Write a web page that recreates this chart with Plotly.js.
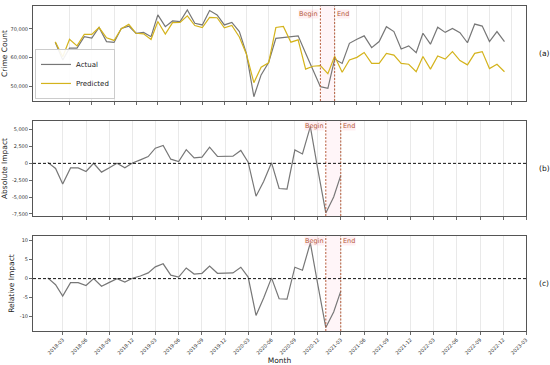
<!DOCTYPE html>
<html>
<head>
<meta charset="utf-8">
<script src="https://cdn.plot.ly/plotly-3.0.1.min.js"></script>
<style>html,body{margin:0;padding:0;background:#fff;}#chart{width:550px;height:365px;}</style>
</head>
<body>
<div id="chart"></div>
<script>
// ---- data ----
const months = [
 '2018-01-01','2018-02-01','2018-03-01','2018-04-01','2018-05-01','2018-06-01','2018-07-01','2018-08-01','2018-09-01','2018-10-01','2018-11-01','2018-12-01',
 '2019-01-01','2019-02-01','2019-03-01','2019-04-01','2019-05-01','2019-06-01','2019-07-01','2019-08-01','2019-09-01','2019-10-01','2019-11-01','2019-12-01',
 '2020-01-01','2020-02-01','2020-03-01','2020-04-01','2020-05-01','2020-06-01','2020-07-01','2020-08-01','2020-09-01','2020-10-01','2020-11-01','2020-12-01',
 '2021-01-01','2021-02-01','2021-03-01','2021-04-01','2021-05-01','2021-06-01','2021-07-01','2021-08-01','2021-09-01','2021-10-01','2021-11-01','2021-12-01',
 '2022-01-01','2022-02-01','2022-03-01','2022-04-01','2022-05-01','2022-06-01','2022-07-01','2022-08-01','2022-09-01','2022-10-01','2022-11-01','2022-12-01',
 '2023-01-01','2023-02-01'
];
const actual = [65400,59200,63300,63300,67300,66800,70500,65600,65300,70200,71000,68500,
 68800,67300,74900,70800,72800,72600,76600,72000,71400,76400,74900,71400,
 72300,69100,61500,46400,54000,58300,66750,67100,67300,67600,61500,56000,
 49900,49300,59500,58000,65000,66400,67600,63500,65600,70800,69100,63000,
 64100,61700,68500,64700,70600,68800,70200,68700,65200,71700,71000,65600,
 69100,65600];
const predicted = [65500,60300,66400,64100,68100,68100,70500,66900,66000,70100,71600,68500,
 68300,66300,72600,68200,72200,72300,74600,71200,70500,74000,73900,70400,
 71200,67200,61300,51300,56700,58200,70500,70900,65400,66200,56000,57000,
 57200,54400,60500,54900,59200,60100,61800,58000,58000,61500,60900,58000,
 57700,55100,60400,56000,60600,59500,62100,59000,57500,61500,62100,56200,
 57700,55100];
const impactMonths = months.slice(0, 39);
const absImpact = [150,-750,-3050,-680,-680,-1200,20,-1300,-650,30,-660,50,
 520,1000,2250,2650,620,280,2030,800,920,2400,1020,1030,
 1070,1920,180,-4860,-2700,100,-3720,-3820,1980,1390,5450,-1000,
 -7340,-4970,-1780];
const relImpact = [0.2,-1.6,-4.6,-1.05,-1.05,-1.8,0,-2.0,-1.0,0,-0.9,0.1,
 0.7,1.5,3.1,3.9,0.9,0.4,2.8,1.2,1.4,3.3,1.4,1.5,
 1.5,3.0,0.4,-9.7,-5.1,0.2,-5.3,-5.4,3.0,2.2,9.4,-1.8,
 -12.9,-8.8,-3.3];
const tickDates = ['2018-03-01','2018-06-01','2018-09-01','2018-12-01','2019-03-01','2019-06-01','2019-09-01','2019-12-01',
 '2020-03-01','2020-06-01','2020-09-01','2020-12-01','2021-03-01','2021-06-01','2021-09-01','2021-12-01',
 '2022-03-01','2022-06-01','2022-09-01','2022-12-01','2023-03-01'];
const tickLabels = ['2018-03','2018-06','2018-09','2018-12','2019-03','2019-06','2019-09','2019-12',
 '2020-03','2020-06','2020-09','2020-12','2021-03','2021-06','2021-09','2021-12',
 '2022-03','2022-06','2022-09','2022-12','2023-03'];
const beginDate = '2021-01-01';
const endDate = '2021-03-01';
const panelLabels = ['(a)','(b)','(c)'];

// ---- styles ----
const FONT = 'DejaVu Sans, sans-serif';
const GRAY = '#777777';
const GOLD = '#d4b31c';
const EVT = '#b65a3a';

const traces = [
  {x: months, y: actual, type:'scatter', mode:'lines', name:'Actual', line:{color:GRAY, width:1.2}, xaxis:'x', yaxis:'y'},
  {x: months, y: predicted, type:'scatter', mode:'lines', name:'Predicted', line:{color:GOLD, width:1.2}, xaxis:'x', yaxis:'y'},
  {x: impactMonths, y: absImpact, type:'scatter', mode:'lines', showlegend:false, line:{color:GRAY, width:1.2}, xaxis:'x2', yaxis:'y2'},
  {x: impactMonths, y: relImpact, type:'scatter', mode:'lines', showlegend:false, line:{color:GRAY, width:1.2}, xaxis:'x3', yaxis:'y3'}
];

function xax(range, anchor, labels) {
  return {
    type:'date', range: range, anchor: anchor,
    tickmode:'array', tickvals: tickDates, ticktext: tickLabels,
    showticklabels: labels, tickangle: -45,
    tickfont:{size:5, family:FONT, color:'#333'},
    ticks:'outside', ticklen:3, tickwidth:0.8, tickcolor:'#444',
    showgrid:true, gridcolor:'#e3e3e3', gridwidth:0.8,
    showline:true, mirror:true, linecolor:'#555', linewidth:1,
    zeroline:false, automargin:false
  };
}
function yax(range, domain, anchor, vals, texts, title) {
  return {
    range: range, domain: domain, anchor: anchor,
    tickmode:'array', tickvals: vals, ticktext: texts,
    tickfont:{size:5, family:FONT, color:'#333'},
    ticks:'outside', ticklen:3, tickwidth:0.8, tickcolor:'#444',
    showgrid:false, zeroline:false,
    showline:true, mirror:true, linecolor:'#555', linewidth:1,
    title:{text:title, font:{size:7.5, family:FONT, color:'#222'}, standoff:4},
    automargin:false
  };
}

const topRange = ['2017-10-01','2023-05-01'];
const botRange = ['2017-11-04','2023-03-01'];

const layout = {
  width:550, height:365,
  margin:{l:33, r:24, t:6, b:34},
  paper_bgcolor:'#fff', plot_bgcolor:'#fff',
  font:{family:FONT},
  showlegend:true,
  legend:{x:0.004, y:0.714, xanchor:'left', yanchor:'bottom', bgcolor:'rgba(255,255,255,0.9)',
    bordercolor:'#cccccc', borderwidth:1, font:{size:7, family:FONT, color:'#222'},
    itemwidth:30, tracegroupgap:0},
  xaxis: xax(topRange, 'y', false),
  xaxis2: xax(botRange, 'y2', false),
  xaxis3: Object.assign(xax(botRange, 'y3', true), {title:{text:'Month', font:{size:7.5, family:FONT, color:'#222'}, standoff:2}}),
  yaxis: yax([44900, 78000], [0.7077, 1], 'x', [50000,60000,70000], ['50,000','60,000','70,000'], 'Crime Count'),
  yaxis2: yax([-7800, 6270], [0.3538, 0.646], 'x2', [-7500,-5000,-2500,0,2500,5000], ['-7,500','-5,000','-2,500','0','2,500','5,000'], 'Absolute Impact'),
  yaxis3: yax([-13.8, 11.2], [0, 0.292], 'x3', [-10,-5,0,5,10], ['-10','-5','0','5','10'], 'Relative Impact'),
  shapes: [],
  annotations: []
};

const panels = [['x','y',[0.7077,1]],['x2','y2',[0.3538,0.646]],['x3','y3',[0,0.292]]];
panels.forEach(function(p, k){
  const xr = p[0], yr = p[1];
  layout.shapes.push({type:'rect', xref:xr, yref:yr+' domain', x0:beginDate, x1:endDate, y0:0, y1:1,
    fillcolor:'rgba(255,190,205,0.15)', line:{width:0}, layer:'below'});
  [beginDate, endDate].forEach(function(d){
    layout.shapes.push({type:'line', xref:xr, yref:yr+' domain', x0:d, x1:d, y0:0, y1:1,
      line:{color:EVT, width:1, dash:'2px,1.5px'}});
  });
  if (k > 0) {
    layout.shapes.push({type:'line', xref:xr+' domain', yref:yr, x0:0, x1:1, y0:0, y1:0,
      line:{color:'#111', width:1, dash:'3px,2px'}});
  }
  layout.annotations.push({xref:xr, yref:yr+' domain', x:beginDate, y:1, xanchor:'right', yanchor:'top',
    xshift:-1, yshift:(k===0?-3:0), text:'Begin', showarrow:false, font:{size:6.5, family:FONT, color:EVT},
    bgcolor:'rgba(255,190,205,0.25)', borderpad:0});
  layout.annotations.push({xref:xr, yref:yr+' domain', x:endDate, y:1, xanchor:'left', yanchor:'top',
    xshift:1, yshift:(k===0?-3:0), text:'End', showarrow:false, font:{size:6.5, family:FONT, color:EVT},
    bgcolor:'rgba(255,190,205,0.25)', borderpad:0});
  layout.annotations.push({xref:'paper', yref:'paper', x:1.022, y:(p[2][0]+p[2][1])/2, xanchor:'left', yanchor:'middle',
    text:panelLabels[k], showarrow:false, font:{size:7.5, family:FONT, color:'#111'}});
});

Plotly.newPlot('chart', traces, layout, {displayModeBar:false, staticPlot:true});
</script>
</body>
</html>
